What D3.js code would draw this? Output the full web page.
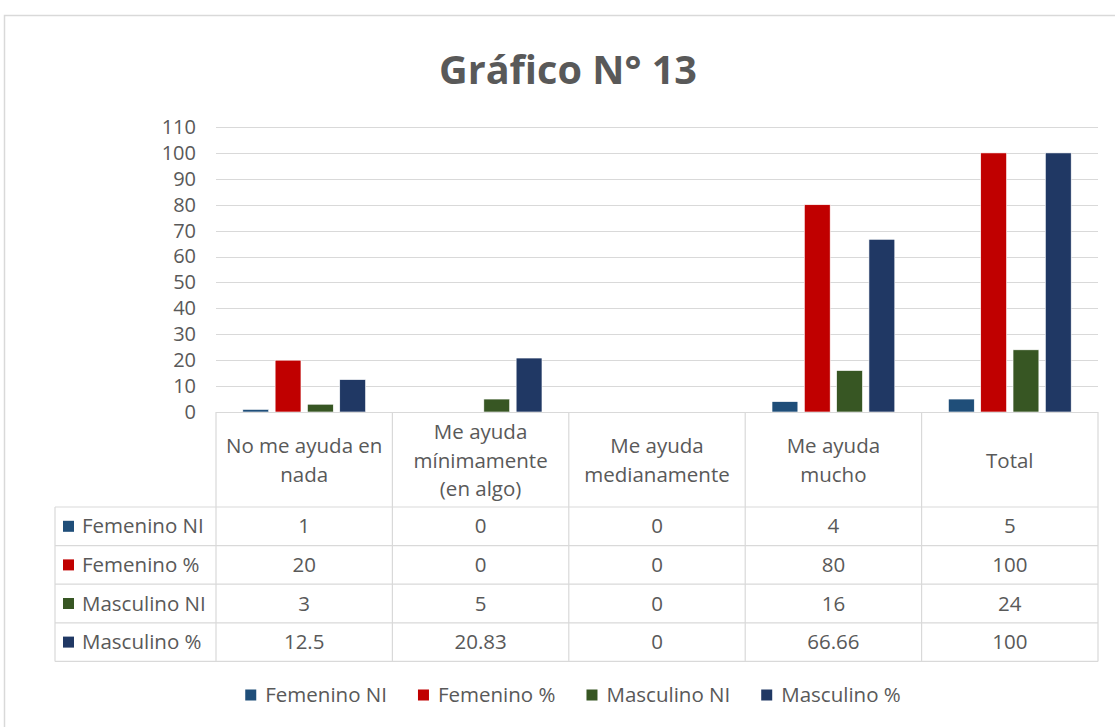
<!DOCTYPE html>
<html>
<head>
<meta charset="utf-8">
<script src="https://cdn.jsdelivr.net/npm/d3@7"></script>
<style>
  body { margin: 0; background: #fff; }
  svg text { font-family: "Open Sans", "Noto Sans", sans-serif; fill: #595959; }
</style>
</head>
<body>
<div id="chart"></div>
<script>
var categories = ["No me ayuda en nada", "Me ayuda mínimamente (en algo)", "Me ayuda medianamente", "Me ayuda mucho", "Total"];
var headerLines = [["No me ayuda en", "nada"], ["Me ayuda", "mínimamente", "(en algo)"], ["Me ayuda", "medianamente"], ["Me ayuda", "mucho"], ["Total"]];
var seriesNames = ["Femenino NI", "Femenino %", "Masculino NI", "Masculino %"];
var femeninoNI = [1, 0, 0, 4, 5];
var femeninoPct = [20, 0, 0, 80, 100];
var masculinoNI = [3, 5, 0, 16, 24];
var masculinoPct = [12.5, 20.83, 0, 66.66, 100];
var yTicks = [0, 10, 20, 30, 40, 50, 60, 70, 80, 90, 100, 110];
var colors = ["#1F4E79", "#C00000", "#375623", "#203864"];

var seriesValues = [femeninoNI, femeninoPct, masculinoNI, masculinoPct];

var width = 1115, height = 727;
var plotLeft = 216, plotRight = 1098, plotTop = 127, plotBottom = 412;
var headerBottom = 507, rowH = 38.6, labelLeft = 55;
var gridColor = "#D9D9D9";
var fs = 20.5;

var svg = d3.select("#chart").append("svg")
  .attr("width", width)
  .attr("height", height);

// outer frame
svg.append("path")
  .attr("d", "M4.5,727 V15.5 H1115")
  .attr("fill", "none")
  .attr("stroke", gridColor)
  .attr("stroke-width", 1.5);

// title
svg.append("text")
  .attr("x", 568)
  .attr("y", 84)
  .attr("text-anchor", "middle")
  .attr("font-size", 40)
  .attr("font-weight", "bold")
  .attr("textLength", 258)
  .attr("lengthAdjust", "spacingAndGlyphs")
  .text("Gráfico N° 13");

var x0 = d3.scaleBand().domain(categories).range([plotLeft, plotRight]).padding(0);
var x1 = d3.scaleBand().domain(seriesNames).range([0, x0.bandwidth()])
  .paddingInner(0.2).paddingOuter(0.83);
var y = d3.scaleLinear().domain([0, 110]).range([plotBottom, plotTop]);

// gridlines
svg.append("g")
  .selectAll("line")
  .data(yTicks)
  .enter().append("line")
  .attr("x1", plotLeft)
  .attr("x2", plotRight)
  .attr("y1", d => Math.round(y(d)) + 0.5)
  .attr("y2", d => Math.round(y(d)) + 0.5)
  .attr("stroke", gridColor)
  .attr("stroke-width", 1.2);

// y axis labels
var yAxis = d3.axisLeft(y).tickValues(yTicks).tickSize(0).tickPadding(0);
var yg = svg.append("g")
  .attr("transform", "translate(196,0)")
  .call(yAxis);
yg.select(".domain").remove();
yg.selectAll("text")
  .attr("font-size", 20)
  .attr("font-family", "Open Sans")
  .attr("fill", "#595959");

// bars
var groups = svg.append("g")
  .selectAll("g")
  .data(categories)
  .enter().append("g")
  .attr("transform", d => "translate(" + x0(d) + ",0)");

groups.selectAll("rect")
  .data((d, i) => seriesNames.map((s, j) => ({ s: s, v: seriesValues[j][i], j: j })))
  .enter().append("rect")
  .attr("x", d => x1(d.s))
  .attr("width", x1.bandwidth())
  .attr("y", d => y(d.v))
  .attr("height", d => plotBottom - y(d.v))
  .attr("fill", d => colors[d.j])
  .attr("stroke", "#fff")
  .attr("stroke-width", 0.6);

// data table
var table = svg.append("g").attr("fill", "none").attr("stroke", gridColor).attr("stroke-width", 1.2);
var tableBottom = headerBottom + rowH * seriesNames.length;

x0.domain().concat(["end"]).forEach(function (c, i) {
  var xx = i < categories.length ? x0(c) : plotRight;
  table.append("line")
    .attr("x1", xx).attr("x2", xx)
    .attr("y1", plotBottom).attr("y2", tableBottom);
});
table.append("line").attr("x1", labelLeft).attr("x2", labelLeft)
  .attr("y1", headerBottom).attr("y2", tableBottom);
table.append("line").attr("x1", plotLeft).attr("x2", plotRight)
  .attr("y1", plotBottom + 0.5).attr("y2", plotBottom + 0.5);
d3.range(seriesNames.length + 1).forEach(function (r) {
  var yy = headerBottom + r * rowH;
  table.append("line").attr("x1", labelLeft).attr("x2", plotRight)
    .attr("y1", yy).attr("y2", yy);
});

// header texts
var headerMid = (plotBottom + headerBottom) / 2 + 1;
categories.forEach(function (c, i) {
  var lines = headerLines[i];
  var lh = 28.5;
  var start = headerMid - (lines.length - 1) * lh / 2;
  var t = svg.append("text")
    .attr("text-anchor", "middle")
    .attr("font-size", fs);
  lines.forEach(function (l, k) {
    t.append("tspan")
      .attr("x", x0(c) + x0.bandwidth() / 2)
      .attr("y", start + k * lh)
      .attr("dy", "0.35em")
      .text(l);
  });
});

// rows
seriesNames.forEach(function (s, j) {
  var cy = headerBottom + j * rowH + rowH / 2;
  svg.append("rect")
    .attr("x", 63).attr("y", cy - 5.5)
    .attr("width", 11).attr("height", 11)
    .attr("fill", colors[j]);
  svg.append("text")
    .attr("x", 82).attr("y", cy).attr("dy", "0.35em")
    .attr("font-size", fs)
    .text(s);
  categories.forEach(function (c, i) {
    svg.append("text")
      .attr("x", x0(c) + x0.bandwidth() / 2)
      .attr("y", cy).attr("dy", "0.35em")
      .attr("text-anchor", "middle")
      .attr("font-size", fs)
      .text(seriesValues[j][i]);
  });
});

// legend
var legend = svg.append("g");
var lx = 0;
seriesNames.forEach(function (s, j) {
  var item = legend.append("g").attr("transform", "translate(" + lx + ",0)");
  item.append("rect").attr("x", 0).attr("y", -5.5).attr("width", 11).attr("height", 11).attr("fill", colors[j]);
  var t = item.append("text").attr("x", 20).attr("dy", "0.35em").attr("font-size", fs).text(s);
  lx += 20 + t.node().getComputedTextLength() + 31;
});
var legendW = lx - 31;
legend.attr("transform", "translate(" + (573 - legendW / 2) + ",695)");
</script>
</body>
</html>
